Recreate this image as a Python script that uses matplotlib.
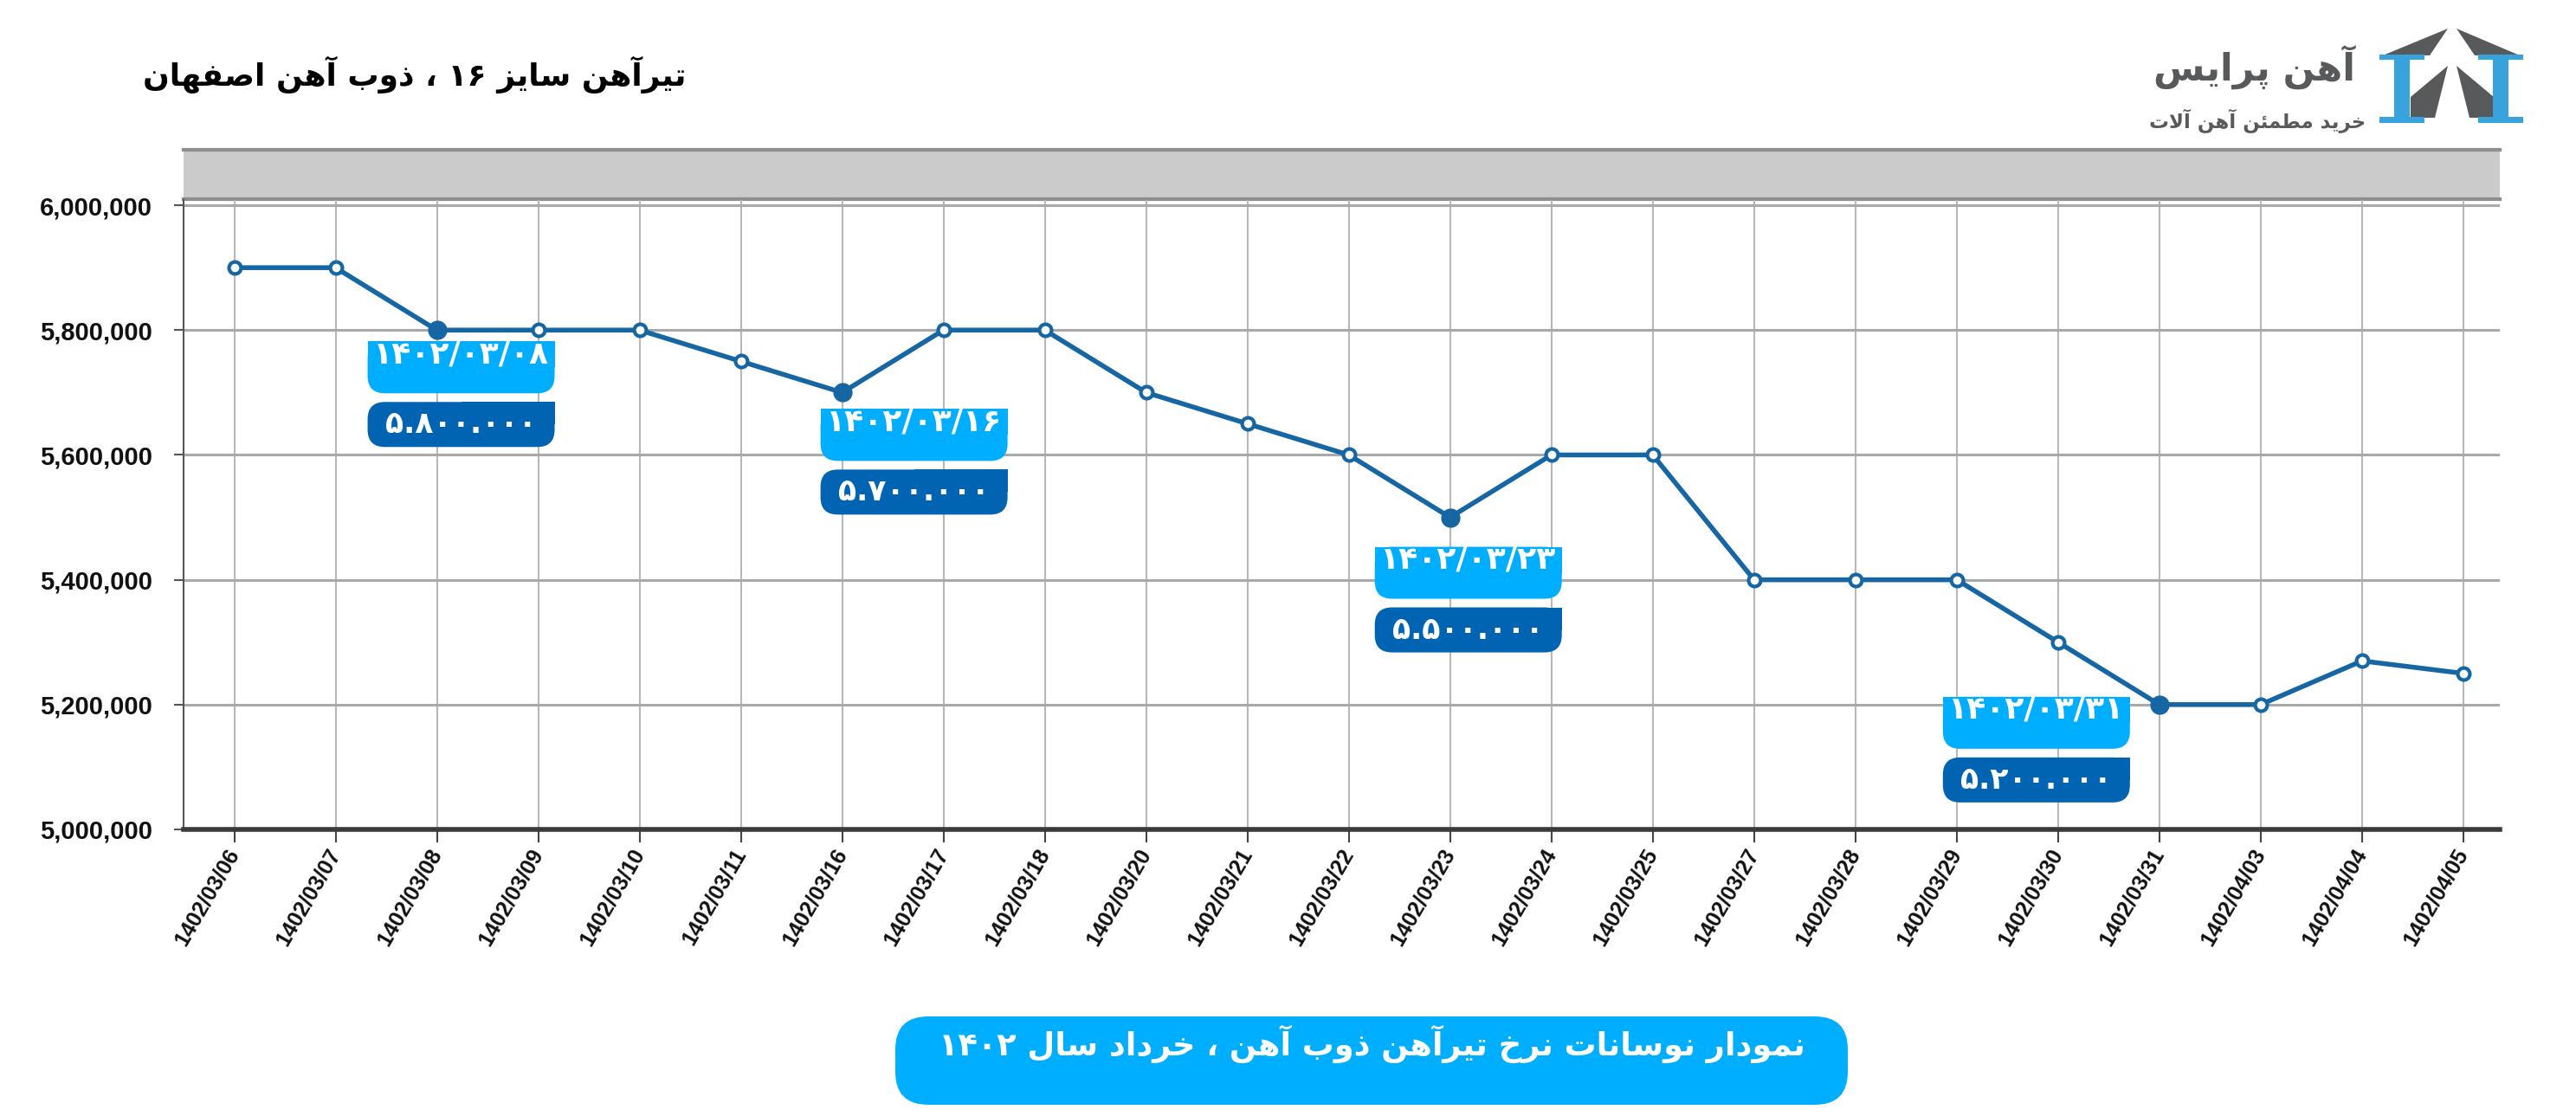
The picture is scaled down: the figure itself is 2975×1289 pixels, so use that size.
import re
import matplotlib
matplotlib.use("Agg")
import matplotlib.pyplot as plt
import matplotlib.transforms as mtransforms
from matplotlib.patches import FancyBboxPatch, Rectangle, Polygon

# data
dates = ["1402/03/06", "1402/03/07", "1402/03/08", "1402/03/09", "1402/03/10",
         "1402/03/11", "1402/03/16", "1402/03/17", "1402/03/18", "1402/03/20",
         "1402/03/21", "1402/03/22", "1402/03/23", "1402/03/24", "1402/03/25",
         "1402/03/27", "1402/03/28", "1402/03/29", "1402/03/30", "1402/03/31",
         "1402/04/03", "1402/04/04", "1402/04/05"]
prices = [5900000, 5900000, 5800000, 5800000, 5800000,
          5750000, 5700000, 5800000, 5800000, 5700000,
          5650000, 5600000, 5500000, 5600000, 5600000,
          5400000, 5400000, 5400000, 5300000, 5200000,
          5200000, 5270000, 5250000]
y_ticks = [5000000, 5200000, 5400000, 5600000, 5800000, 6000000]

highlight_dates = ["1402/03/08", "1402/03/16", "1402/03/23", "1402/03/31"]
highlight_date_labels = ["۱۴۰۲/۰۳/۰۸", "۱۴۰۲/۰۳/۱۶", "۱۴۰۲/۰۳/۲۳", "۱۴۰۲/۰۳/۳۱"]
highlight_price_labels = ["۵.۸۰۰.۰۰۰", "۵.۷۰۰.۰۰۰", "۵.۵۰۰.۰۰۰", "۵.۲۰۰.۰۰۰"]

title = "تیرآهن سایز ۱۶ ، ذوب آهن اصفهان"
caption = "نمودار نوسانات نرخ تیرآهن ذوب آهن ، خرداد سال ۱۴۰۲"
brand = "آهن پرایس"
slogan = "خرید مطمئن آهن آلات"

# label box offsets from their point, in pixels (left edge, drop below point)
box_dx = [-80, -25, -87, -250]
box_drop = [13, 19, 34, -9]

W, H = 2975, 1289
LINE = "#1766a4"
LIGHT = "#00aeff"
DARK = "#0064b2"
GREY = "#58595b"
TICK_FONT = ["Liberation Sans", "DejaVu Sans"]

# minimal Persian shaping (matplotlib does no joining / RTL)
FORMS = {
    "\u0622": ("\ufe81", "\ufe82", None, None),
    "\u0626": ("\ufe89", "\ufe8a", "\ufe8b", "\ufe8c"),
    "\u0627": ("\ufe8d", "\ufe8e", None, None),
    "\u0628": ("\ufe8f", "\ufe90", "\ufe91", "\ufe92"),
    "\u062a": ("\ufe95", "\ufe96", "\ufe97", "\ufe98"),
    "\u062d": ("\ufea1", "\ufea2", "\ufea3", "\ufea4"),
    "\u062e": ("\ufea5", "\ufea6", "\ufea7", "\ufea8"),
    "\u062f": ("\ufea9", "\ufeaa", None, None),
    "\u0630": ("\ufeab", "\ufeac", None, None),
    "\u0631": ("\ufead", "\ufeae", None, None),
    "\u0632": ("\ufeaf", "\ufeb0", None, None),
    "\u0633": ("\ufeb1", "\ufeb2", "\ufeb3", "\ufeb4"),
    "\u0635": ("\ufeb9", "\ufeba", "\ufebb", "\ufebc"),
    "\u0637": ("\ufec1", "\ufec2", "\ufec3", "\ufec4"),
    "\u0641": ("\ufed1", "\ufed2", "\ufed3", "\ufed4"),
    "\u0644": ("\ufedd", "\ufede", "\ufedf", "\ufee0"),
    "\u0645": ("\ufee1", "\ufee2", "\ufee3", "\ufee4"),
    "\u0646": ("\ufee5", "\ufee6", "\ufee7", "\ufee8"),
    "\u0647": ("\ufee9", "\ufeea", "\ufeeb", "\ufeec"),
    "\u0648": ("\ufeed", "\ufeee", None, None),
    "\u067e": ("\ufb56", "\ufb57", "\ufb58", "\ufb59"),
    "\u06cc": ("\ufbfc", "\ufbfd", "\ufbfe", "\ufbff"),
    "LA": ("\ufefb", "\ufefc", None, None),
}


def fa(text):
    text = text.replace("\u064a", "\u06cc")
    chars = []
    i = 0
    while i < len(text):
        if text[i] == "\u0644" and i + 1 < len(text) and text[i + 1] == "\u0627":
            chars.append("LA")
            i += 2
        else:
            chars.append(text[i])
            i += 1
    out = []
    for k, c in enumerate(chars):
        if c not in FORMS:
            out.append(c)
            continue
        prev = chars[k - 1] if k > 0 else None
        nxt = chars[k + 1] if k + 1 < len(chars) else None
        jp = prev in FORMS and FORMS[prev][2] is not None
        jn = FORMS[c][2] is not None and nxt in FORMS
        iso, fin, ini, med = FORMS[c]
        out.append(med if jp and jn else fin if jp else ini if jn else iso)
    vis = "".join(out)[::-1]
    return re.sub(r"[0-9\u06f0-\u06f9]+(?:[./][0-9\u06f0-\u06f9]+)*",
                  lambda m: m.group(0)[::-1], vis)


fig = plt.figure(figsize=(W / 100, H / 100), dpi=100)

# decoration layer in pixel coordinates
deco = fig.add_axes([0, 0, 1, 1])
deco.set_xlim(0, W)
deco.set_ylim(H, 0)
deco.axis("off")
deco.set_zorder(0)

# grey navigator band above the plot
deco.add_patch(Rectangle((212, 171), 2675, 60, facecolor="#cbcbcb", edgecolor="none"))
deco.plot([212, 2887], [173, 173], color="#8e8e8e", lw=3)
deco.plot([212, 2887], [230, 230], color="#8e8e8e", lw=3)

deco.text(479, 86, fa(title), ha="center", va="center", fontsize=26,
          fontweight="bold", color="black", family="DejaVu Sans")
deco.text(2720, 78, fa(brand), ha="right", va="center", fontsize=31,
          fontweight="bold", color=GREY, family="DejaVu Sans")
deco.text(2732, 140, fa(slogan), ha="right", va="center", fontsize=16.5,
          fontweight="bold", color=GREY, family="DejaVu Sans")

# logo icon
ICON_BLUE = "#37a2dc"
for poly in ([(2752, 64), (2827, 33), (2806, 64)],
             [(2837, 33), (2910, 64), (2858, 64)],
             [(2827, 76), (2784, 112), (2784, 136), (2812, 136)],
             [(2837, 76), (2880, 112), (2880, 136), (2852, 136)]):
    deco.add_patch(Polygon(poly, closed=True, facecolor=GREY, edgecolor="none"))
for x0 in (2748, 2862):
    deco.add_patch(Rectangle((x0, 63), 52, 6, facecolor=ICON_BLUE, edgecolor="none"))
    deco.add_patch(Rectangle((x0 + 17, 66), 18, 72, facecolor=ICON_BLUE, edgecolor="none"))
    deco.add_patch(Rectangle((x0, 135), 52, 7, facecolor=ICON_BLUE, edgecolor="none"))

# caption banner
deco.add_patch(FancyBboxPatch((1034, 1174), 1100, 102,
                              boxstyle="round,pad=0,rounding_size=38",
                              facecolor=LIGHT, edgecolor="none"))
deco.text(1584, 1206, fa(caption), ha="center", va="center", fontsize=26.5,
          fontweight="bold", color="white", family="DejaVu Sans")

# main chart
ax = fig.add_axes([212 / W, 331 / H, 2675 / W, 726.6 / H])
ax.set_zorder(1)
ax.patch.set_alpha(0)

x = list(range(len(dates)))
ax.plot(x, prices, color=LINE, lw=4, marker="o", ms=10,
        markerfacecolor="white", markeredgecolor=LINE, markeredgewidth=3, zorder=3)
hi = [dates.index(d) for d in highlight_dates]
ax.plot(hi, [prices[i] for i in hi], "o", color=LINE, ms=15, zorder=4)

ax.set_xlim(-0.5, len(dates) - 1 + 0.36)
ax.set_ylim(5000000, 6007900)
ax.set_yticks(y_ticks)
ax.set_yticklabels([f"{v:,}" for v in y_ticks], fontsize=21, fontweight="bold",
                   family=TICK_FONT, color="#111111")
ax.set_xticks(x)
ax.set_xticklabels(dates, rotation=60, ha="right", va="center", rotation_mode="anchor",
                   fontsize=18, fontweight="bold", family=TICK_FONT, color="#111111")
shift = mtransforms.ScaledTranslation(18 / 100, 0, fig.dpi_scale_trans)
for lab in ax.get_xticklabels():
    lab.set_transform(lab.get_transform() + shift)
ax.tick_params(axis="y", length=8, width=1.5, color="#555555", pad=18)
ax.tick_params(axis="x", length=11, width=1.5, color="#444444", pad=6)

ax.grid(axis="x", color="#b8b8b8", lw=1.5)
ax.grid(axis="y", color="#a9a9a9", lw=2.2)
ax.set_axisbelow(True)
for side in ("top", "right"):
    ax.spines[side].set_visible(False)
ax.spines["left"].set_color("#555555")
ax.spines["left"].set_linewidth(1.5)
ax.spines["bottom"].set_color("#3a3a3a")
ax.spines["bottom"].set_linewidth(4)

# date / price call-outs
BW, LH, GAP, DH = 216, 60, 10, 52
for k, i in enumerate(hi):
    tr = mtransforms.ScaledTranslation(x[i], prices[i], ax.transData)
    top = -box_drop[k]
    left = box_dx[k]
    light = FancyBboxPatch((left, top - LH), BW, LH, boxstyle="round,pad=0,rounding_size=20",
                           facecolor=LIGHT, edgecolor="none", transform=tr, zorder=5)
    light_sq = Rectangle((left, top - LH / 2), BW, LH / 2, facecolor=LIGHT,
                         edgecolor="none", transform=tr, zorder=5)
    dtop = top - LH - GAP
    dark = FancyBboxPatch((left, dtop - DH), BW, DH, boxstyle="round,pad=0,rounding_size=20",
                          facecolor=DARK, edgecolor="none", transform=tr, zorder=5)
    dark_sq = Rectangle((left + BW / 2, dtop - DH / 2), BW / 2, DH / 2, facecolor=DARK,
                        edgecolor="none", transform=tr, zorder=5)
    for p in (light, light_sq, dark, dark_sq):
        p.set_clip_on(False)
        ax.add_artist(p)
    ax.text(left + BW / 2, top - 15, highlight_date_labels[k], transform=tr,
            ha="center", va="center", fontsize=26, fontweight="bold",
            color="white", family="DejaVu Sans", zorder=6, clip_on=False)
    ax.text(left + BW / 2, dtop - DH / 2, highlight_price_labels[k], transform=tr,
            ha="center", va="center", fontsize=25, fontweight="bold",
            color="white", family="DejaVu Sans", zorder=6, clip_on=False)

fig.savefig("out.png", dpi=100, facecolor="white")
